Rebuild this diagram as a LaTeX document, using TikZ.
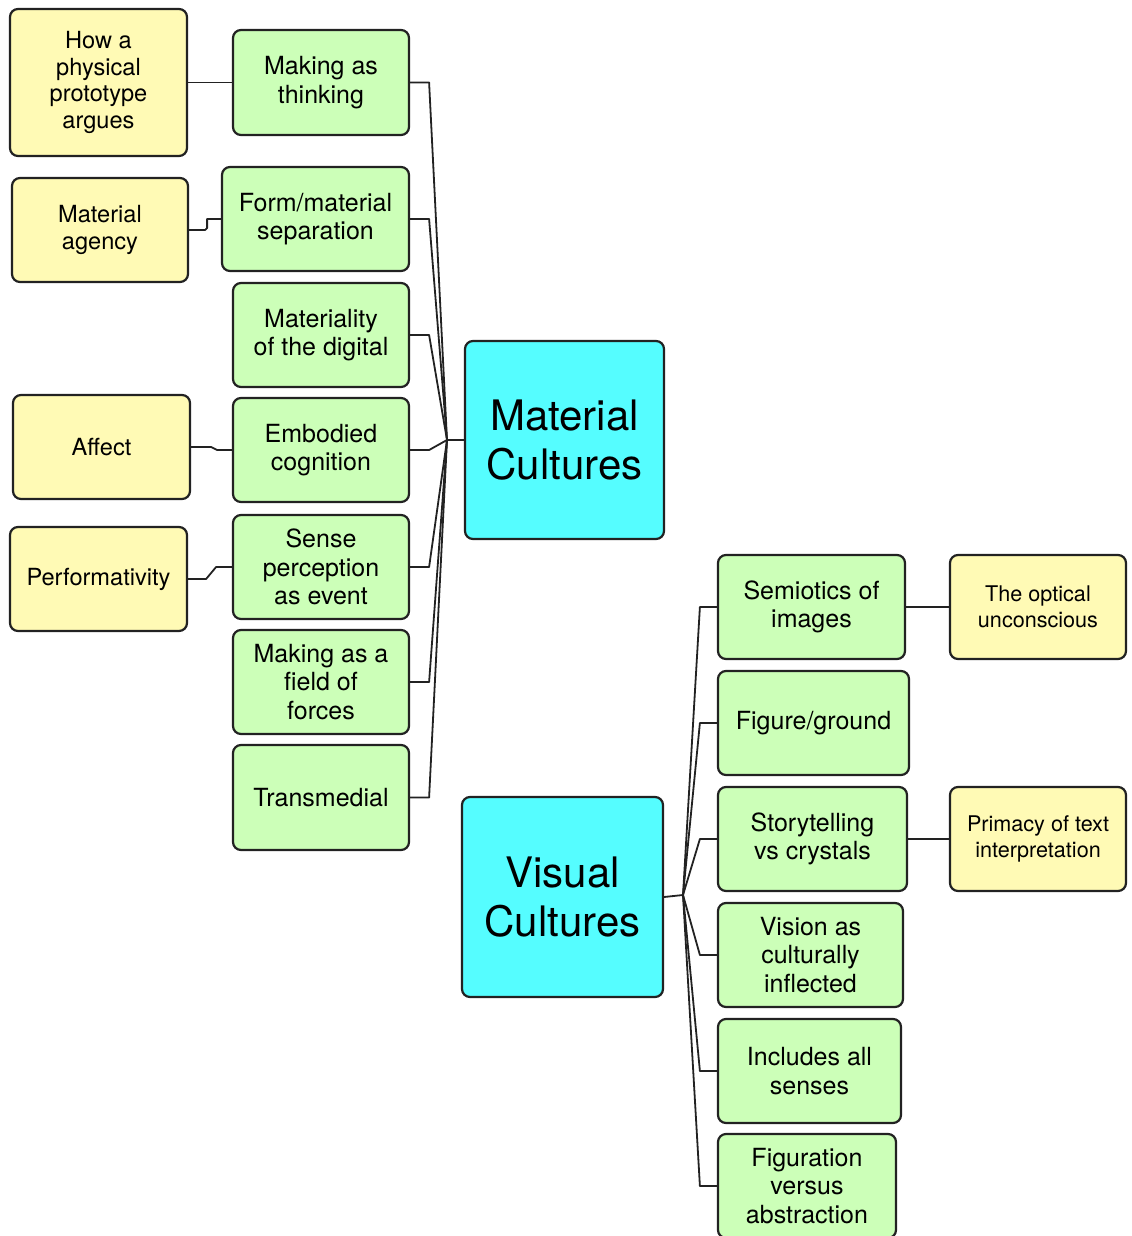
\documentclass[tikz,border=0pt]{standalone}
\usepackage{fontspec}
\setmainfont{TeX Gyre Heros}
\definecolor{leafgreen}{HTML}{CCFFB8}
\definecolor{notey}{HTML}{FFFAB5}
\definecolor{hubcyan}{HTML}{55FDFF}
\definecolor{edge}{HTML}{222222}
\begin{document}
\begin{tikzpicture}[x=0.5pt,y=-0.5pt,
  box/.style={draw=edge,line width=1.1pt,rounded corners=4pt,align=center,
    inner sep=0pt,minimum height=52pt},
  gbox/.style={box,fill=leafgreen,font=\fontsize{12.5}{14.2}\selectfont},
  ybox/.style={box,fill=notey,font=\fontsize{11.8}{13.3}\selectfont},
  yrbox/.style={box,fill=notey,font=\fontsize{10.8}{13}\selectfont},
  hub/.style={box,fill=hubcyan,font=\fontsize{21}{24.5}\selectfont},
  link/.style={draw=edge,line width=0.9pt,line join=round}]
\useasboundingbox (0,0) rectangle (1131,1236);

% central topics
\node[hub,minimum width=99.5pt,minimum height=99pt] (mc) at (564.5,440) {Material\\Cultures};
\node[hub,minimum width=100.5pt,minimum height=100pt] (vc) at (562.5,897) {Visual\\Cultures};

% material cultures branches
\node[gbox,minimum width=88pt,minimum height=52.5pt] (g1) at (321,82.5) {Making as\\thinking};
\node[gbox,minimum width=93.5pt] (g2) at (315.5,219) {Form/material\\separation};
\node[gbox,minimum width=88pt] (g3) at (321,335) {Materiality\\of the digital};
\node[gbox,minimum width=88pt] (g4) at (321,450) {Embodied\\cognition};
\node[gbox,minimum width=88pt] (g5) at (321,567) {Sense\\perception\\as event};
\node[gbox,minimum width=88pt] (g6) at (321,682) {Making as a\\field of\\forces};
\node[gbox,minimum width=88pt,minimum height=52.5pt] (g7) at (321,797.5) {Transmedial};

% material cultures sub-branches
\node[ybox,minimum width=88.5pt,minimum height=73.5pt] (y1) at (98.5,82.5) {How a\\physical\\prototype\\argues};
\node[ybox,minimum width=88pt] (y2) at (100,230) {Material\\agency};
\node[ybox,minimum width=88.5pt] (y3) at (101.5,447) {Affect};
\node[ybox,minimum width=88.5pt] (y4) at (98.5,579) {Performativity};

% visual cultures branches
\node[gbox,minimum width=93.5pt] (r1) at (811.5,607) {Semiotics of\\images};
\node[gbox,minimum width=95.5pt] (r2) at (813.5,723) {Figure/ground};
\node[gbox,minimum width=94.5pt] (r3) at (812.5,839) {Storytelling\\vs crystals};
\node[gbox,minimum width=92.5pt] (r4) at (810.5,955) {Vision as\\culturally\\inflected};
\node[gbox,minimum width=91.5pt] (r5) at (809.5,1071) {Includes all\\senses};
\node[gbox,minimum width=89pt] (r6) at (807,1186) {Figuration\\versus\\abstraction};

% visual cultures sub-branches
\node[yrbox,minimum width=88pt] (o1) at (1038,607) {The optical\\unconscious};
\node[yrbox,minimum width=88pt] (o2) at (1038,839) {Primacy of text\\interpretation};

% junction points
\coordinate (hm) at (447,440);
\coordinate (hv) at (683,895);

% material cultures connectors
\draw[link] (mc.west) -- (hm);
\foreach \g in {g1,g2,g3,g4,g5,g6,g7}
  \draw[link] (\g.east) -- ++(19,0) -- (hm);

% visual cultures connectors
\draw[link] (vc.east) -- (hv);
\foreach \r in {r1,r2,r3,r4,r5,r6}
  \draw[link] (\r.west) -- ++(-17,0) -- (hv);

% sub-branch connectors
\draw[link] (y1.east) -- (g1.west);
\draw[link] (y2.east) -- ++(16,0) -- ++(2,-2) -- ++(0,-9) -- (g2.west);
\draw[link] (y3.east) -- ++(20,0) -- ++(6,3) -- (g4.west);
\draw[link] (y4.east) -- ++(18,0) -- ++(10,-12) -- (g5.west);
\draw[link] (r1.east) -- (o1.west);
\draw[link] (r3.east) -- (o2.west);
\end{tikzpicture}
\end{document}
